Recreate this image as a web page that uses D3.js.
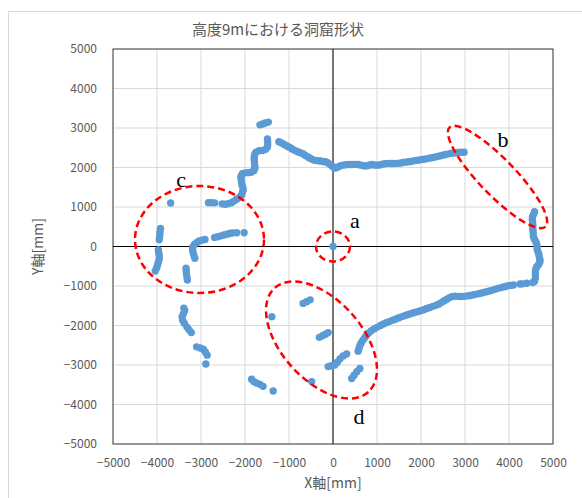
<!DOCTYPE html>
<html>
<head>
<meta charset="utf-8">
<script src="https://cdn.jsdelivr.net/npm/d3@7"></script>
<style>
  body { margin: 0; background: #fff; }
  text { font-family: "Noto Sans CJK JP", "Noto Sans", sans-serif; }
</style>
</head>
<body>
<div id="chart"></div>
<script>
// point data, [x mm, y mm]
const topWall = [
  [-1230,2655],[-1170,2620],[-1110,2585],[-1050,2545],[-990,2515],[-930,2470],[-865,2430],[-800,2400],
  [-740,2375],[-675,2340],[-620,2300],[-560,2260],[-520,2235],[-460,2200],[-400,2180],[-340,2170],
  [-280,2165],[-220,2150],[-170,2145],[-120,2120],[-70,2080],[-20,2040],[20,2000],[60,1985],
  [110,2010],[160,2040],[220,2060],[290,2070],[360,2075],[430,2075],[500,2080],[570,2075],
  [640,2060],[700,2045],[760,2040],[820,2060],[880,2075],[940,2065],[1000,2060],[1060,2065],
  [1120,2085],[1180,2095],[1250,2105],[1320,2100],[1390,2100],[1460,2105],[1520,2110],[1590,2125],
  [1650,2135],[1720,2145],[1790,2160],[1860,2175],[1930,2185],[2000,2200],[2070,2210],[2140,2225],
  [2210,2240],[2280,2255],[2350,2275],[2420,2290],[2490,2310],[2560,2330],[2630,2345],[2700,2360],
  [2770,2370],[2840,2380],[2910,2385],[2980,2385]
];
const rightWall = [
  [4580,880],[4560,820],[4535,760],[4530,690],[4535,620],[4540,550],[4540,480],[4545,410],
  [4550,340],[4553,260],[4575,190],[4610,120],[4630,60],[4635,0],[4640,-70],[4660,-140],
  [4680,-210],[4690,-280],[4705,-340],[4700,-400],[4670,-460],[4630,-510],[4610,-570],[4600,-640],
  [4600,-720],[4600,-800],[4580,-880],[4540,-910],[4400,-930],[4300,-945],[4250,-950]
];
const lowerRightWall = [
  [4100,-975],[4030,-985],[3960,-1000],[3890,-1020],[3820,-1040],[3750,-1060],[3680,-1085],[3610,-1110],
  [3540,-1130],[3470,-1150],[3400,-1170],[3330,-1190],[3260,-1205],[3190,-1220],[3120,-1240],[3050,-1250],
  [2980,-1262],[2910,-1265],[2840,-1262],[2770,-1258],[2700,-1270],[2640,-1300],[2580,-1340],[2520,-1380],
  [2460,-1420],[2400,-1460],[2340,-1490],[2270,-1515],[2200,-1545],[2130,-1570],[2060,-1600],[1990,-1625],
  [1920,-1650],[1850,-1670],[1780,-1695],[1710,-1720],[1640,-1745],[1570,-1775],[1500,-1805],[1430,-1835],
  [1360,-1865],[1290,-1895],[1220,-1925],[1150,-1960],[1080,-2000],[1010,-2040],[940,-2080],[870,-2130],
  [810,-2190],[760,-2250],[720,-2310],[680,-2370],[640,-2440],[610,-2510],[590,-2580],[570,-2650]
];
const upperLeftWall = [
  [-1660,3080],[-1600,3100],[-1540,3125],[-1470,3150],
  [-1490,2720],[-1485,2650],[-1485,2580],[-1490,2520],[-1530,2460],[-1600,2430],[-1680,2425],[-1750,2390],
  [-1780,2330],[-1790,2260],[-1790,2190],[-1785,2120],[-1780,2050],[-1775,1980],[-1800,1920],[-1860,1880],
  [-1930,1870],[-2000,1865],[-2060,1840],[-2090,1780],[-2090,1710],[-2080,1640],[-2070,1570],[-2050,1500],
  [-2040,1430],[-2060,1360],[-2080,1300],[-2130,1240],[-2190,1195],[-2250,1150],[-2310,1110],[-2380,1085],
  [-2450,1070],[-2520,1080],
  [-2830,1110],[-2760,1110],[-2690,1105],[-3690,1100]
];
const leftScatter = [
  [-3920,460],[-3930,390],[-3935,320],[-3940,250],[-3950,170],
  [-3970,-90],[-3960,-160],[-3950,-240],[-3950,-320],[-3970,-400],[-3990,-480],[-4010,-550],[-4040,-620],
  [-3140,-300],[-3160,-230],[-3180,-160],[-3190,-90],[-3190,-20],[-3150,50],[-3090,100],[-3040,140],
  [-2980,160],[-2910,180],
  [-2690,230],[-2620,250],[-2550,270],[-2480,290],[-2410,310],[-2350,330],[-2290,340],[-2190,350],[-2020,350],
  [-3340,-550],[-3335,-620],[-3330,-690],[-3320,-770],[-3310,-850]
];
const lowerScatter = [
  [-3390,-1560],[-3370,-1620],[-3400,-1700],[-3430,-1780],[-3420,-1860],[-3380,-1940],[-3320,-2040],
  [-3270,-2110],[-3220,-2180],
  [-3100,-2540],[-3020,-2570],[-2950,-2600],[-2900,-2670],[-2860,-2750],[-2890,-2975],
  [-1850,-3360],[-1800,-3420],[-1730,-3460],[-1660,-3490],[-1590,-3540],[-1360,-3660],
  [-1390,-1780],
  [-680,-1440],[-600,-1400],[-520,-1350],
  [-310,-2300],[-240,-2260],[-170,-2220],[-110,-2180],
  [-110,-3040],[-40,-3020],[40,-3000],[100,-2930],[160,-2840],[230,-2770],[310,-2720],
  [425,-3340],[480,-3260],[540,-3170],[610,-3090],
  [-485,-3420],
  [0,0]
];
const tickValues = [-5000,-4000,-3000,-2000,-1000,0,1000,2000,3000,4000,5000];
const markLabels = ["a", "b", "c", "d"];
const markCenters = [[0,0],[3739,1759],[-3034,177],[-261,-2367]];
const labelAnchors = [[500,470],[3864,2519],[-3450,1506],[591,-4494]];

const width = 582;
const height = 498;
const plot = { left: 113, right: 553, top: 49, bottom: 444 };
// ellipse radii (px) and rotation, same order as markLabels
const ellipseShape = [
  { rx: 17, ry: 15, rot: 0 },
  { rx: 69, ry: 18, rot: 46 },
  { rx: 64.5, ry: 53.5, rot: 0 },
  { rx: 70, ry: 40, rot: 48 }
];

const svg = d3.select("#chart").append("svg")
    .attr("width", width)
    .attr("height", height);

// outer chart border
svg.append("rect")
    .attr("x", 8.5).attr("y", 11.5)
    .attr("width", 600).attr("height", 520)
    .attr("fill", "#fff")
    .attr("stroke", "#d9d9d9");

const x = d3.scaleLinear().domain([-5000, 5000]).range([plot.left, plot.right]);
const y = d3.scaleLinear().domain([-5000, 5000]).range([plot.bottom, plot.top]);

// gridlines
svg.append("g").selectAll("line")
    .data(tickValues)
    .enter().append("line")
    .attr("x1", function(d) { return x(d); })
    .attr("x2", function(d) { return x(d); })
    .attr("y1", plot.top).attr("y2", plot.bottom)
    .attr("stroke", "#d9d9d9");
svg.append("g").selectAll("line")
    .data(tickValues)
    .enter().append("line")
    .attr("y1", function(d) { return y(d); })
    .attr("y2", function(d) { return y(d); })
    .attr("x1", plot.left).attr("x2", plot.right)
    .attr("stroke", "#d9d9d9");

// plot border
svg.append("rect")
    .attr("x", plot.left).attr("y", plot.top)
    .attr("width", plot.right - plot.left)
    .attr("height", plot.bottom - plot.top)
    .attr("fill", "none")
    .attr("stroke", "#404040");

// zero axes
svg.append("line")
    .attr("x1", x(0)).attr("x2", x(0))
    .attr("y1", plot.top).attr("y2", plot.bottom)
    .attr("stroke", "#000");
svg.append("line")
    .attr("y1", y(0)).attr("y2", y(0))
    .attr("x1", plot.left).attr("x2", plot.right)
    .attr("stroke", "#000");

// tick labels
const xAxisG = svg.append("g")
    .attr("transform", "translate(0," + plot.bottom + ")")
    .call(d3.axisBottom(x).tickValues(tickValues).tickSize(0).tickPadding(14).tickFormat(d3.format("d")));
const yAxisG = svg.append("g")
    .attr("transform", "translate(" + plot.left + ",0)")
    .call(d3.axisLeft(y).tickValues(tickValues).tickSize(0).tickPadding(16).tickFormat(d3.format("d")));
[xAxisG, yAxisG].forEach(function(g) {
  g.select(".domain").remove();
  g.selectAll("text")
      .style("font-family", "'Noto Sans CJK JP', 'Noto Sans', sans-serif")
      .style("font-size", "12px")
      .attr("fill", "#595959");
});

// points
const allPoints = [].concat(topWall, rightWall, lowerRightWall, upperLeftWall, leftScatter, lowerScatter);
svg.append("g").selectAll("circle")
    .data(allPoints)
    .enter().append("circle")
    .attr("cx", function(d) { return x(d[0]); })
    .attr("cy", function(d) { return y(d[1]); })
    .attr("r", 3.7)
    .attr("fill", "#5B9BD5");

// red dashed annotation ellipses
svg.append("g").selectAll("ellipse")
    .data(markCenters)
    .enter().append("ellipse")
    .attr("transform", function(d, i) {
      return "translate(" + x(d[0]) + "," + y(d[1]) + ") rotate(" + ellipseShape[i].rot + ")";
    })
    .attr("rx", function(d, i) { return ellipseShape[i].rx; })
    .attr("ry", function(d, i) { return ellipseShape[i].ry; })
    .attr("fill", "none")
    .attr("stroke", "#ff0000")
    .attr("stroke-width", 2.5)
    .attr("stroke-dasharray", "7,4");

svg.append("g").selectAll("text")
    .data(markLabels)
    .enter().append("text")
    .attr("x", function(d, i) { return x(labelAnchors[i][0]); })
    .attr("y", function(d, i) { return y(labelAnchors[i][1]); })
    .attr("text-anchor", "middle")
    .style("font-family", "'Liberation Serif', 'DejaVu Serif', serif")
    .style("font-size", "22px")
    .attr("fill", "#000")
    .text(function(d) { return d; });

// title
svg.append("text")
    .attr("x", 278)
    .attr("y", 35)
    .attr("text-anchor", "middle")
    .style("font-size", "15px")
    .attr("fill", "#595959")
    .text("高度9mにおける洞窟形状");

// axis titles
svg.append("text")
    .attr("x", x(0))
    .attr("y", 488)
    .attr("text-anchor", "middle")
    .style("font-size", "14px")
    .attr("fill", "#595959")
    .text("X軸[mm]");

svg.append("text")
    .attr("transform", "rotate(-90)")
    .attr("x", -y(0))
    .attr("y", 43)
    .attr("text-anchor", "middle")
    .style("font-size", "14px")
    .attr("fill", "#595959")
    .text("Y軸[mm]");
</script>
</body>
</html>
